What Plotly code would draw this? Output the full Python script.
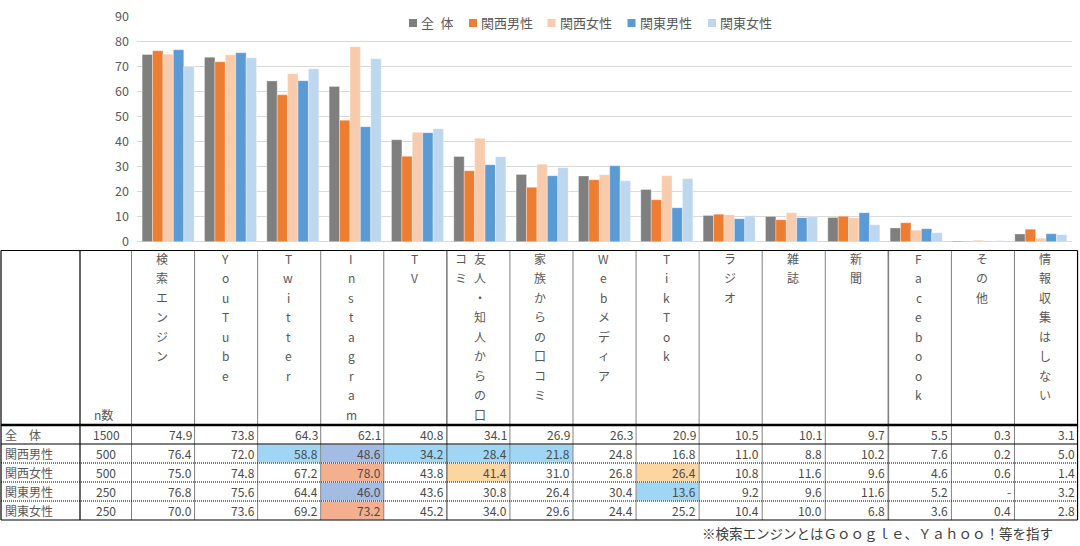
import plotly.graph_objects as go

# ---------------- data ----------------
categories = ["検索エンジン", "YouTube", "Twitter", "Instagram", "TV",
              "友人・知人からの口コミ", "家族からの口コミ", "Webメディア", "TikTok",
              "ラジオ", "雑誌", "新聞", "Facebook", "その他", "情報収集はしない"]
groups = ["全　体", "関西男性", "関西女性", "関東男性", "関東女性"]
n_counts = [1500, 500, 500, 250, 250]

v_all = [74.9, 73.8, 64.3, 62.1, 40.8, 34.1, 26.9, 26.3, 20.9, 10.5, 10.1, 9.7, 5.5, 0.3, 3.1]
v_kansai_m = [76.4, 72.0, 58.8, 48.6, 34.2, 28.4, 21.8, 24.8, 16.8, 11.0, 8.8, 10.2, 7.6, 0.2, 5.0]
v_kansai_f = [75.0, 74.8, 67.2, 78.0, 43.8, 41.4, 31.0, 26.8, 26.4, 10.8, 11.6, 9.6, 4.6, 0.6, 1.4]
v_kanto_m = [76.8, 75.6, 64.4, 46.0, 43.6, 30.8, 26.4, 30.4, 13.6, 9.2, 9.6, 11.6, 5.2, None, 3.2]
v_kanto_f = [70.0, 73.6, 69.2, 73.2, 45.2, 34.0, 29.6, 24.4, 25.2, 10.4, 10.0, 6.8, 3.6, 0.4, 2.8]

y_ticks = [0, 10, 20, 30, 40, 50, 60, 70, 80, 90]

# highlight codes per table row (b: light blue, p: periwinkle, s: salmon, o: light orange)
hl_all = [None] * 15
hl_kansai_m = [None, None, "b", "p", "b", "b", "b", None, None, None, None, None, None, None, None]
hl_kansai_f = [None, None, None, "s", None, "o", None, None, "o", None, None, None, None, None, None]
hl_kanto_m = [None, None, None, "p", None, None, None, None, "b", None, None, None, None, None, None]
hl_kanto_f = [None, None, None, "s", None, None, None, None, None, None, None, None, None, None, None]

note = "※検索エンジンとはＧｏｏｇｌｅ、Ｙａｈｏｏ！等を指す"

# ---------------- styling ----------------
series = [v_all, v_kansai_m, v_kansai_f, v_kanto_m, v_kanto_f]
highlights = [hl_all, hl_kansai_m, hl_kansai_f, hl_kanto_m, hl_kanto_f]
colors = ["#7f7f7f", "#ed7d31", "#f8cbad", "#5b9bd5", "#bdd7ee"]
hl_colors = {"b": "#9fd6f5", "p": "#a3bce3", "s": "#f4b08e", "o": "#fcd6a0"}
FONT = "Noto Sans CJK JP"
GRAY = "#595959"
TXT = "#4a4a4a"

W, H = 1080, 546


def px(x):
    return x / W


def py(y):
    return 1 - y / H


fig = go.Figure()
for name, vals, col in zip(groups, series, colors):
    fig.add_trace(go.Bar(
        x=categories, y=vals, name=name,
        marker=dict(color=col, line=dict(color="rgba(255,255,255,0.55)", width=0.6)),
        showlegend=False, hoverinfo="x+y+name"))

shapes = []
annotations = []

# ---------- manual legend ----------
shapes.append(dict(type="rect", xref="paper", yref="paper", layer="above",
                   x0=px(394), x1=px(782), y0=py(37), y1=py(7),
                   fillcolor="white", line=dict(width=0)))
leg_sym_x = [409, 469, 547.5, 627.5, 708]
LEG_Y = 23
for name, col, sx in zip(groups, colors, leg_sym_x):
    shapes.append(dict(type="rect", xref="paper", yref="paper", layer="above",
                       x0=px(sx), x1=px(sx + 8), y0=py(LEG_Y + 4), y1=py(LEG_Y - 4),
                       fillcolor=col, line=dict(width=0)))
    annotations.append(dict(xref="paper", yref="paper", x=px(sx + 10), y=py(LEG_Y),
                            xanchor="left", yanchor="middle", showarrow=False,
                            text=name.replace("　", "\u2002"),
                            font=dict(family=FONT, size=13, color=GRAY)))

# ---------- table geometry ----------
T_TOP = 250.5
T_HEAD = 425
ROW_H = 19
T_BOT = T_HEAD + ROW_H * len(groups)
X_L = 1
X_LAB = 80
X_N = 131.5
COL_W = 63.07
X_R = X_N + COL_W * len(categories)


def col_left(j):
    return X_N + COL_W * j


# cell highlight fills
for i, hl in enumerate(highlights):
    for j, code in enumerate(hl):
        if code:
            shapes.append(dict(type="rect", xref="paper", yref="paper", layer="below",
                               x0=px(col_left(j) + 0.5), x1=px(col_left(j + 1) - 0.5),
                               y0=py(T_HEAD + ROW_H * (i + 1) - 0.5), y1=py(T_HEAD + ROW_H * i + 0.5),
                               fillcolor=hl_colors[code], line=dict(width=0)))


def hline(y, x0, x1, width=1, dash="solid"):
    shapes.append(dict(type="line", xref="paper", yref="paper", layer="above",
                       x0=px(x0), x1=px(x1), y0=py(y), y1=py(y),
                       line=dict(color="black", width=width, dash=dash)))


def vline(x, y0, y1, width=1, dash="solid"):
    shapes.append(dict(type="line", xref="paper", yref="paper", layer="above",
                       x0=px(x), x1=px(x), y0=py(y0), y1=py(y1),
                       line=dict(color="black", width=width, dash=dash)))


# vertical lines
vline(X_L, T_TOP, T_BOT, 1.2)
vline(X_LAB, T_TOP, T_BOT, 1.2)
vline(X_N, T_TOP, T_BOT, 1, "1px,1px")
for j in range(1, len(categories)):
    if j in (5, 12):
        vline(col_left(j), T_TOP, T_BOT, 1.6, "1px,1px")
    else:
        vline(col_left(j), T_TOP, T_BOT, 1, "1px,1px")
vline(X_R, T_TOP, T_BOT, 1.2)

# horizontal lines
hline(T_TOP, X_L, X_R, 1.2)
for i in range(1, len(groups)):
    y = T_HEAD + ROW_H * i
    if i == 1:
        hline(y, X_L, X_R, 1.2)
    else:
        hline(y, X_L, X_R, 1, "1px,1px")
hline(T_HEAD, X_L, X_R, 2.6)
hline(T_BOT, X_L, X_R, 1.2)

# header: vertical text
HEAD_Y0 = 258
HEAD_DY = 19.5
MAX_CH = 9
for j, cat in enumerate(categories):
    cx = col_left(j) + COL_W / 2 - 1
    chunks = [cat[k:k + MAX_CH] for k in range(0, len(cat), MAX_CH)]
    for c, chunk in enumerate(chunks):
        lx = cx + (2.5 if len(chunks) > 1 else 0) - 19 * c
        for r, ch in enumerate(chunk):
            annotations.append(dict(xref="paper", yref="paper", x=px(lx), y=py(HEAD_Y0 + HEAD_DY * r),
                                    xanchor="center", yanchor="middle", showarrow=False,
                                    text=ch, font=dict(family=FONT, size=12, color=GRAY)))
annotations.append(dict(xref="paper", yref="paper", x=px(103.5), y=py(HEAD_Y0 + HEAD_DY * 8),
                        xanchor="center", yanchor="middle", showarrow=False,
                        text="n数", font=dict(family=FONT, size=12, color=GRAY)))

# body rows
for i, (g, n, vals) in enumerate(zip(groups, n_counts, series)):
    yc = T_HEAD + ROW_H * i + ROW_H / 2
    annotations.append(dict(xref="paper", yref="paper", x=px(3), y=py(yc),
                            xanchor="left", yanchor="middle", showarrow=False,
                            text=g, font=dict(family=FONT, size=12, color=GRAY)))
    annotations.append(dict(xref="paper", yref="paper", x=px((X_LAB + X_N) / 2 + 0.5), y=py(yc),
                            xanchor="center", yanchor="middle", showarrow=False,
                            text=str(n), font=dict(family=FONT, size=12, color=TXT)))
    for j, v in enumerate(vals):
        t = "-" if v is None else f"{v:.1f}"
        annotations.append(dict(xref="paper", yref="paper", x=px(col_left(j + 1) - 1), y=py(yc),
                                xanchor="right", yanchor="middle", showarrow=False,
                                text=t, font=dict(family=FONT, size=12, color=TXT)))

# footnote
annotations.append(dict(xref="paper", yref="paper", x=px(1055), y=py(533),
                        xanchor="right", yanchor="middle", showarrow=False,
                        text=note, font=dict(family=FONT, size=13.5, color="#404040")))

fig.update_layout(
    width=W, height=H,
    margin=dict(l=0, r=0, t=0, b=0, autoexpand=False),
    paper_bgcolor="white", plot_bgcolor="white",
    barmode="group", bargap=0.165, bargroupgap=0,
    font=dict(family=FONT, color=GRAY),
    xaxis=dict(domain=[px(137), px(1072)], range=[-0.5, len(categories) - 0.5],
               showticklabels=False, showgrid=False, zeroline=False, showline=False,
               categoryorder="array", categoryarray=categories, fixedrange=True),
    yaxis=dict(domain=[py(241.7), py(16.7)], range=[0, 90], tickvals=y_ticks,
               showgrid=True, gridcolor="#d9d9d9", gridwidth=1,
               zeroline=True, zerolinecolor="#d9d9d9", zerolinewidth=1,
               showline=False, ticks="", ticklabelstandoff=7,
               tickfont=dict(family=FONT, size=12.5, color=GRAY), fixedrange=True),
    shapes=shapes, annotations=annotations,
)

fig.write_html("out.html",
               config={"displayModeBar": False},
               post_script="document.body.style.margin='0';document.body.style.overflow='hidden';")
